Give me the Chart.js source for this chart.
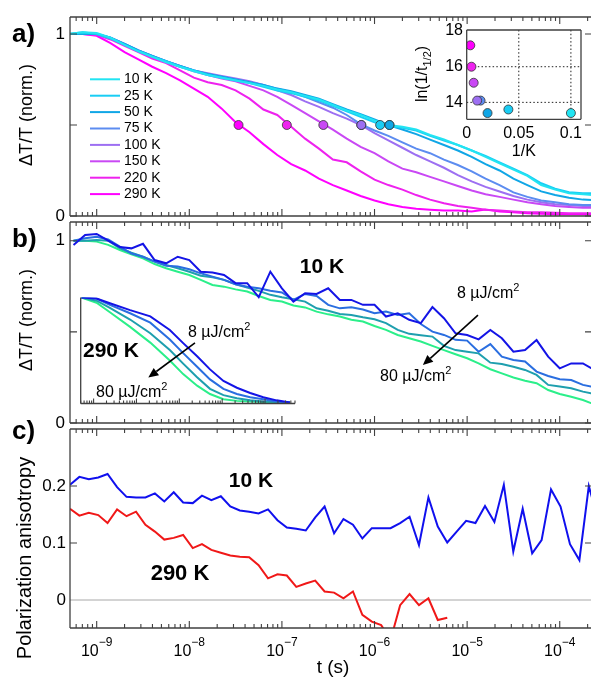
<!DOCTYPE html>
<html><head><meta charset="utf-8">
<script src="https://cdn.jsdelivr.net/npm/chart.js@4.4.1/dist/chart.umd.min.js"></script>
<style>
html,body{margin:0;padding:0;background:#fff;width:591px;height:678px;overflow:hidden;}
canvas{position:absolute;left:0;top:0;}
</style></head><body>
<canvas id="cA" width="600" height="678"></canvas>
<canvas id="cAi" width="600" height="678"></canvas>
<canvas id="cB" width="600" height="678"></canvas>
<canvas id="cBi" width="600" height="678"></canvas>
<canvas id="cC" width="600" height="678"></canvas>
<script>
// ================= DATA =================
// Panel a: normalized dT/T vs time for several temperatures
const tempLabels = ['10 K','25 K','50 K','75 K','100 K','150 K','220 K','290 K'];
const tempColors = ['#22e4f2','#19cdf4','#10a6e6','#5c8cf0','#9d6ff2','#c948f4','#ee22ee','#ff00ff'];
const timesA = [5.01e-10,7.08e-10,1.00e-9,1.41e-9,2.00e-9,2.82e-9,3.98e-9,5.62e-9,7.94e-9,1.12e-8,1.58e-8,2.24e-8,3.16e-8,4.47e-8,6.31e-8,8.91e-8,1.26e-7,1.78e-7,2.51e-7,3.55e-7,5.01e-7,7.08e-7,1.00e-6,1.41e-6,2.00e-6,2.82e-6,3.98e-6,5.62e-6,7.94e-6,1.12e-5,1.58e-5,2.24e-5,3.16e-5,4.47e-5,6.31e-5,8.91e-5,1.26e-4,1.78e-4,2.24e-4];
const dT10K  = [1.0,1.01,1.005,0.98,0.94,0.905,0.875,0.845,0.82,0.795,0.775,0.76,0.745,0.73,0.715,0.695,0.68,0.66,0.64,0.61,0.58,0.555,0.525,0.50,0.49,0.475,0.445,0.42,0.39,0.36,0.325,0.29,0.255,0.22,0.17,0.145,0.125,0.12,0.115];
const dT25K  = [1.0,1.01,1.0,0.975,0.94,0.905,0.875,0.85,0.82,0.8,0.775,0.76,0.745,0.73,0.71,0.69,0.675,0.655,0.635,0.605,0.575,0.545,0.515,0.495,0.485,0.47,0.44,0.415,0.39,0.36,0.33,0.295,0.26,0.225,0.18,0.15,0.13,0.125,0.125];
const dT50K  = [1.0,1.0,1.0,0.98,0.945,0.91,0.88,0.85,0.825,0.8,0.78,0.765,0.75,0.735,0.72,0.7,0.685,0.665,0.645,0.615,0.585,0.56,0.53,0.5,0.475,0.45,0.42,0.39,0.36,0.325,0.285,0.25,0.205,0.17,0.135,0.115,0.1,0.09,0.088];
const dT75K  = [1.0,1.0,1.0,0.98,0.945,0.91,0.88,0.85,0.825,0.8,0.78,0.765,0.75,0.735,0.72,0.70,0.68,0.655,0.625,0.595,0.555,0.505,0.47,0.44,0.405,0.37,0.345,0.31,0.28,0.245,0.205,0.17,0.13,0.105,0.085,0.075,0.065,0.06,0.06];
const dT100K = [1.0,1.0,1.0,0.98,0.945,0.91,0.88,0.85,0.825,0.8,0.785,0.77,0.755,0.74,0.72,0.69,0.665,0.63,0.6,0.565,0.535,0.5,0.455,0.415,0.375,0.335,0.3,0.265,0.225,0.19,0.16,0.135,0.11,0.09,0.075,0.065,0.06,0.055,0.055];
const dT150K = [1.0,1.0,1.0,0.975,0.94,0.905,0.875,0.845,0.82,0.795,0.775,0.755,0.74,0.715,0.69,0.655,0.61,0.565,0.52,0.475,0.425,0.38,0.345,0.30,0.26,0.24,0.215,0.19,0.165,0.14,0.12,0.105,0.09,0.075,0.065,0.055,0.05,0.045,0.045];
const dT220K = [1.0,1.0,0.995,0.97,0.935,0.9,0.865,0.84,0.8,0.76,0.735,0.72,0.69,0.645,0.585,0.555,0.49,0.425,0.37,0.31,0.295,0.245,0.2,0.17,0.145,0.115,0.09,0.07,0.055,0.045,0.035,0.03,0.025,0.02,0.02,0.018,0.015,0.015,0.015];
const dT290K = [1.0,1.0,0.99,0.95,0.9,0.86,0.82,0.785,0.745,0.70,0.655,0.59,0.515,0.46,0.395,0.335,0.285,0.25,0.205,0.17,0.14,0.11,0.085,0.065,0.05,0.04,0.035,0.03,0.03,0.025,0.035,0.025,0.02,0.015,0.012,0.01,0.01,0.01,0.01];
// half-decay points (t1/2, level 0.5), order 10 K ... 290 K
const halfTimes  = [1.45e-6,1.15e-6,1.45e-6,7.2e-7,7.2e-7,2.8e-7,1.13e-7,3.4e-8];
const halfLevels = [0.5,0.5,0.5,0.5,0.5,0.5,0.5,0.5];
// inset a: ln(1/t1/2) vs 1/T
const invTemp   = [0.1,0.04,0.02,0.0133,0.01,0.0067,0.00455,0.00345];
const lnInvHalf = [13.4,13.6,13.4,14.1,14.1,15.1,16.0,17.2];

// Panel b: 10 K, four excitation fluences (8 -> 80 uJ/cm2)
const fluenceLabels = ['8 µJ/cm²','fluence 2','fluence 3','80 µJ/cm²'];
const fluenceColors = ['#1414e6','#2a6ee0','#1e9fae','#2bef8a'];
const timesB = [5.62e-10,7.50e-10,1.00e-9,1.33e-9,1.78e-9,2.37e-9,3.16e-9,4.22e-9,5.62e-9,7.50e-9,1.00e-8,1.33e-8,1.78e-8,2.37e-8,3.16e-8,4.22e-8,5.62e-8,7.50e-8,1.00e-7,1.33e-7,1.78e-7,2.37e-7,3.16e-7,4.22e-7,5.62e-7,7.50e-7,1.00e-6,1.33e-6,1.78e-6,2.37e-6,3.16e-6,4.22e-6,5.62e-6,7.50e-6,1.00e-5,1.33e-5,1.78e-5,2.37e-5,3.16e-5,4.22e-5,5.62e-5,7.50e-5,1.00e-4,1.33e-4,1.78e-4,2.37e-4];
const b10K_f1 = [0.977,1.031,1.037,1.0,0.965,0.958,0.983,0.894,0.876,0.912,0.894,0.83,0.825,0.812,0.767,0.767,0.69,0.83,0.739,0.666,0.712,0.708,0.739,0.675,0.675,0.648,0.648,0.584,0.602,0.566,0.548,0.636,0.575,0.492,0.483,0.459,0.51,0.465,0.391,0.4,0.455,0.364,0.3,0.327,0.327,0.291];
const b10K_f2 = [1.0,1.013,1.022,1.007,0.967,0.93,0.912,0.885,0.863,0.858,0.843,0.821,0.803,0.785,0.761,0.748,0.739,0.726,0.716,0.675,0.708,0.697,0.648,0.629,0.635,0.623,0.602,0.611,0.593,0.602,0.543,0.501,0.483,0.456,0.452,0.391,0.433,0.364,0.346,0.337,0.282,0.258,0.240,0.236,0.209,0.196];
const b10K_f3 = [1.0,1.0,1.004,1.0,0.958,0.934,0.912,0.885,0.867,0.849,0.83,0.808,0.799,0.785,0.761,0.743,0.725,0.703,0.69,0.679,0.666,0.629,0.616,0.598,0.593,0.58,0.569,0.548,0.511,0.489,0.481,0.474,0.423,0.4,0.391,0.382,0.331,0.324,0.309,0.291,0.264,0.209,0.2,0.191,0.172,0.159];
const b10K_f4 = [1.0,1.0,0.995,0.977,0.949,0.925,0.903,0.872,0.849,0.83,0.812,0.785,0.757,0.748,0.733,0.721,0.697,0.675,0.666,0.645,0.634,0.611,0.596,0.584,0.566,0.557,0.532,0.511,0.483,0.465,0.447,0.423,0.4,0.377,0.355,0.327,0.295,0.272,0.25,0.232,0.218,0.181,0.159,0.144,0.126,0.102];
// inset b: 290 K, same four fluences
const timesBi = [5.2e-10,1.17e-9,2.4e-9,7.1e-9,2.1e-8,6.0e-8,1.23e-7,2.6e-7,5.2e-7,1.07e-6,2.2e-6,4.5e-6,9.1e-6,1.86e-5,3.8e-5];
const b290K_f1 = [1.0,0.99,0.945,0.88,0.82,0.69,0.565,0.44,0.315,0.205,0.14,0.09,0.05,0.02,0.0];
const b290K_f2 = [1.0,0.99,0.93,0.85,0.76,0.6,0.47,0.34,0.22,0.13,0.08,0.05,0.03,0.01,0.0];
const b290K_f3 = [1.0,0.97,0.9,0.79,0.66,0.5,0.37,0.24,0.13,0.07,0.04,0.02,0.01,0.005,0.0];
const b290K_f4 = [1.0,0.95,0.86,0.72,0.57,0.4,0.27,0.16,0.08,0.03,0.015,0.01,0.005,0.0,0.0];

// Panel c: polarization anisotropy
const timesC = [5.15e-10,6.50e-10,8.22e-10,1.04e-9,1.31e-9,1.66e-9,2.10e-9,2.66e-9,3.36e-9,4.25e-9,5.37e-9,6.79e-9,8.58e-9,1.09e-8,1.37e-8,1.73e-8,2.19e-8,2.77e-8,3.51e-8,4.43e-8,5.60e-8,7.08e-8,8.95e-8,1.13e-7,1.43e-7,1.81e-7,2.29e-7,2.89e-7,3.66e-7,4.62e-7,5.85e-7,7.39e-7,9.35e-7,1.18e-6,1.49e-6,1.89e-6,2.39e-6,3.02e-6,3.82e-6,4.82e-6,6.10e-6,7.71e-6,9.75e-6,1.23e-5,1.56e-5,1.97e-5,2.49e-5,3.15e-5,3.98e-5,5.04e-5,6.37e-5,8.05e-5,1.02e-4,1.29e-4,1.63e-4,2.06e-4,2.60e-4];
const aniso10K = [0.202,0.216,0.212,0.215,0.221,0.198,0.181,0.180,0.180,0.187,0.173,0.189,0.171,0.170,0.183,0.175,0.182,0.164,0.157,0.155,0.152,0.159,0.140,0.127,0.125,0.122,0.145,0.164,0.117,0.142,0.132,0.108,0.126,0.126,0.126,0.135,0.146,0.0965,0.180,0.129,0.101,0.120,0.139,0.135,0.165,0.137,0.202,0.085,0.160,0.082,0.105,0.194,0.164,0.098,0.070,0.200,0.140];
const aniso290K = [0.160,0.148,0.153,0.149,0.135,0.159,0.147,0.155,0.132,0.120,0.106,0.109,0.114,0.091,0.098,0.088,0.083,0.078,0.076,0.075,0.061,0.038,0.045,0.043,0.023,0.029,0.034,0.015,0.013,0.003,0.015,-0.026,-0.038,-0.044,-0.07,-0.009,0.0105,-0.009,0.003,-0.035,-0.031,null,null,null,null,null,null,null,null,null,null,null,null,null,null,null,null];

// axis tick labels
const xMajorExps = [-9,-8,-7,-6,-5,-4];
const yTicksAB = [0,0.5,1];
const yLabelsAB = ['0','','1'];
const yTicksC = [0,0.1,0.2];
const yLabelsC = ['0','0.1','0.2'];
const insetYTicks = [14,16,18];
const insetXTicks = [0,0.05,0.1];
const insetXLabels = ['0','0.05','0.1'];

// ================= RENDERING =================
const W = 600, H = 678;
const FONT = '"Liberation Sans", Arial, Helvetica, sans-serif';
const INK = '#000';
const FRAME = '#404040';
const pts = (ts, vs) => ts.map((t, i) => ({x: t, y: vs[i]}));
const font = (s, b) => (b ? 'bold ' : '') + s + 'px ' + FONT;

function text(ctx, s, x, y, size, o) {
  o = o || {};
  ctx.save();
  ctx.font = font(size, o.bold);
  ctx.fillStyle = o.color || INK;
  ctx.textAlign = o.align || 'left';
  ctx.textBaseline = o.baseline || 'alphabetic';
  if (o.rot) { ctx.translate(x, y); ctx.rotate(o.rot); ctx.fillText(s, 0, o.dy || 0); }
  else ctx.fillText(s, x, y);
  ctx.restore();
}
function supText(ctx, base, sup, x, y, size, supSize, rise, align) {
  ctx.save(); ctx.fillStyle = INK; ctx.textBaseline = 'alphabetic'; ctx.textAlign = 'left';
  ctx.font = font(size); const w1 = ctx.measureText(base).width;
  ctx.font = font(supSize); const w2 = ctx.measureText(sup).width;
  const x0 = align === 'center' ? x - (w1 + w2) / 2 : (align === 'right' ? x - w1 - w2 : x);
  ctx.font = font(size); ctx.fillText(base, x0, y);
  ctx.font = font(supSize); ctx.fillText(sup, x0 + w1, y - rise);
  ctx.restore();
}
function arrow(ctx, x1, y1, x2, y2) {
  ctx.save(); ctx.strokeStyle = '#000'; ctx.fillStyle = '#000'; ctx.lineWidth = 1.6;
  const a = Math.atan2(y2 - y1, x2 - x1), L = 10, Wd = 4.5;
  const bx = x2 - L * Math.cos(a), by = y2 - L * Math.sin(a);
  ctx.beginPath(); ctx.moveTo(x1, y1); ctx.lineTo(bx, by); ctx.stroke();
  ctx.beginPath(); ctx.moveTo(x2, y2);
  ctx.lineTo(bx + Wd * Math.sin(a), by - Wd * Math.cos(a));
  ctx.lineTo(bx - Wd * Math.sin(a), by + Wd * Math.cos(a));
  ctx.closePath(); ctx.fill(); ctx.restore();
}
function frame(ctx, ca, sides) {
  ctx.save(); ctx.strokeStyle = FRAME; ctx.lineWidth = 1.3; ctx.beginPath();
  if (sides.includes('t')) { ctx.moveTo(ca.left, ca.top); ctx.lineTo(ca.right, ca.top); }
  if (sides.includes('b')) { ctx.moveTo(ca.left, ca.bottom); ctx.lineTo(ca.right, ca.bottom); }
  if (sides.includes('l')) { ctx.moveTo(ca.left, ca.top); ctx.lineTo(ca.left, ca.bottom); }
  if (sides.includes('r')) { ctx.moveTo(ca.right, ca.top); ctx.lineTo(ca.right, ca.bottom); }
  ctx.stroke(); ctx.restore();
}
function logTicks(chart, edges, major, minor) {
  const ctx = chart.ctx, sx = chart.scales.x, ca = chart.chartArea;
  const lo = Math.floor(Math.log10(sx.min)), hi = Math.ceil(Math.log10(sx.max));
  ctx.save(); ctx.strokeStyle = FRAME; ctx.lineWidth = 1.1; ctx.beginPath();
  for (let e = lo; e <= hi; e++) for (let m = 1; m <= 9; m++) {
    const v = m * Math.pow(10, e);
    if (v < sx.min || v > sx.max) continue;
    const px = sx.getPixelForValue(v), len = m === 1 ? major : minor;
    if (edges.includes('b')) { ctx.moveTo(px, ca.bottom); ctx.lineTo(px, ca.bottom - len); }
    if (edges.includes('t')) { ctx.moveTo(px, ca.top); ctx.lineTo(px, ca.top + len); }
  }
  ctx.stroke(); ctx.restore();
}
function yTicks(chart, vals, len) {
  const ctx = chart.ctx, sy = chart.scales.y, ca = chart.chartArea;
  ctx.save(); ctx.strokeStyle = FRAME; ctx.lineWidth = 1.1; ctx.beginPath();
  vals.forEach(v => {
    const py = sy.getPixelForValue(v);
    ctx.moveTo(ca.left, py); ctx.lineTo(ca.left + len, py);
    ctx.moveTo(ca.right, py); ctx.lineTo(ca.right - len, py);
  });
  ctx.stroke(); ctx.restore();
}
function yLabels(chart, vals, labels, x, size) {
  const sy = chart.scales.y;
  vals.forEach((v, i) => { if (labels[i]) text(chart.ctx, labels[i], x, sy.getPixelForValue(v), size, {align: 'right', baseline: 'middle'}); });
}

function makeChart(id, cfg) {
  const el = document.getElementById(id);
  const noop = () => {};
  return new Chart(el.getContext('2d'), {
    type: 'line',
    data: {datasets: cfg.datasets},
    options: {
      responsive: false, maintainAspectRatio: false, animation: false, devicePixelRatio: 1,
      layout: {padding: {left: cfg.area[0], top: cfg.area[1], right: W - cfg.area[2], bottom: H - cfg.area[3]}},
      plugins: {legend: {display: false}, tooltip: {enabled: false}},
      scales: {
        x: {type: cfg.xType || 'logarithmic', min: cfg.x[0], max: cfg.x[1], display: false},
        y: {type: 'linear', min: cfg.y[0], max: cfg.y[1], display: false}
      },
      elements: {point: {radius: 0}, line: {borderWidth: 2, tension: 0}}
    },
    plugins: [{id: 'deco_' + id, beforeDatasetsDraw: cfg.before || noop, afterDatasetsDraw: cfg.after || noop}]
  });
}
const lineDS = (label, data, color) => ({label, data, borderColor: color, backgroundColor: color, borderWidth: 2, pointRadius: 0, fill: false});

// ---------- Panel a ----------
const seriesA = [dT10K, dT25K, dT50K, dT75K, dT100K, dT150K, dT220K, dT290K];
const dsA = seriesA.map((s, i) => Object.assign(lineDS(tempLabels[i], pts(timesA, s), tempColors[i]), {legend: true}));
dsA.unshift({label: 't1/2', data: pts(halfTimes, halfLevels), showLine: false, order: -1,
  pointRadius: 4.5, pointBackgroundColor: tempColors, pointBorderColor: '#333', pointBorderWidth: 0.8, borderColor: '#333'});
makeChart('cA', {
  area: [70, 17, 592, 216], x: [5.15e-10, 2.23e-4], y: [0, 1.0934], datasets: dsA,
  after(chart) {
    const ctx = chart.ctx;
    frame(ctx, chart.chartArea, 'tblr');
    logTicks(chart, 'tb', 7, 4);
    yTicks(chart, yTicksAB, 7);
    yLabels(chart, yTicksAB, yLabelsAB, 65, 17);
    text(ctx, 'ΔT/T (norm.)', 25.5, 115, 18, {rot: -Math.PI / 2, align: 'center', dy: 6.5});
    text(ctx, 'a)', 12, 42, 26, {bold: true});
    // legend
    const legendItems = chart.data.datasets.filter(d => d.legend);
    legendItems.forEach((d, i) => {
      const y = 79.3 + 16.4 * i;
      ctx.save(); ctx.strokeStyle = d.borderColor; ctx.lineWidth = 2;
      ctx.beginPath(); ctx.moveTo(90, y); ctx.lineTo(120, y); ctx.stroke(); ctx.restore();
      text(ctx, d.label, 124, y, 14, {baseline: 'middle'});
    });
  }
});

// ---------- Inset a ----------
makeChart('cAi', {
  area: [466.7, 30, 581, 119.3], xType: 'linear', x: [0, 0.1097], y: [13.05, 18.06],
  datasets: [{label: 'ln(1/t1/2)', data: pts(invTemp, lnInvHalf), showLine: false,
    pointRadius: 4.5, pointBackgroundColor: tempColors, pointBorderColor: '#333', pointBorderWidth: 0.8, borderColor: '#333'}],
  before(chart) {
    const ctx = chart.ctx, ca = chart.chartArea, sx = chart.scales.x, sy = chart.scales.y;
    ctx.save(); ctx.fillStyle = '#fff'; ctx.fillRect(ca.left, ca.top, ca.right - ca.left, ca.bottom - ca.top);
    ctx.strokeStyle = '#222'; ctx.lineWidth = 1; ctx.setLineDash([1.5, 2.2]); ctx.beginPath();
    [0.05, 0.1].forEach(v => { const px = sx.getPixelForValue(v); ctx.moveTo(px, ca.top); ctx.lineTo(px, ca.bottom); });
    [14, 16].forEach(v => { const py = sy.getPixelForValue(v); ctx.moveTo(ca.left, py); ctx.lineTo(ca.right, py); });
    ctx.stroke(); ctx.restore();
  },
  after(chart) {
    const ctx = chart.ctx, ca = chart.chartArea, sx = chart.scales.x, sy = chart.scales.y;
    frame(ctx, ca, 'tblr');
    insetYTicks.forEach(v => text(ctx, String(v), 463, sy.getPixelForValue(v), 16, {align: 'right', baseline: 'middle'}));
    insetXTicks.forEach((v, i) => text(ctx, insetXLabels[i], sx.getPixelForValue(v), 134, 16, {align: 'center', baseline: 'middle'}));
    text(ctx, '1/K', (ca.left + ca.right) / 2, 152, 16, {align: 'center', baseline: 'middle'});
    // rotated y title with subscript
    ctx.save(); ctx.translate(421, 74); ctx.rotate(-Math.PI / 2); ctx.fillStyle = INK;
    ctx.font = font(16); const wa = ctx.measureText('ln(1/t').width, wc = ctx.measureText(')').width;
    ctx.font = font(11); const wb = ctx.measureText('1/2').width;
    const x0 = -(wa + wb + wc) / 2;
    ctx.font = font(16); ctx.fillText('ln(1/t', x0, 6); ctx.fillText(')', x0 + wa + wb, 6);
    ctx.font = font(11); ctx.fillText('1/2', x0 + wa, 10);
    ctx.restore();
  }
});

// ---------- Panel b ----------
const seriesB = [b10K_f1, b10K_f2, b10K_f3, b10K_f4];
makeChart('cB', {
  area: [70, 222, 592, 423], x: [5.15e-10, 2.23e-4], y: [0, 1.1026],
  datasets: seriesB.map((s, i) => lineDS(fluenceLabels[i], pts(timesB, s), fluenceColors[i])),
  after(chart) {
    const ctx = chart.ctx, sx = chart.scales.x, sy = chart.scales.y;
    frame(ctx, chart.chartArea, 'tblr');
    logTicks(chart, 'tb', 7, 4);
    yTicks(chart, yTicksAB, 7);
    yLabels(chart, yTicksAB, yLabelsAB, 65, 17);
    text(ctx, 'ΔT/T (norm.)', 25.5, 320, 18, {rot: -Math.PI / 2, align: 'center', dy: 6.5});
    text(ctx, 'b)', 12, 247, 26, {bold: true});
    text(ctx, '10 K', 322, 273, 21, {bold: true, align: 'center'});
    supText(ctx, '8 µJ/cm', '2', 457, 298, 16, 11, 7, 'left');
    supText(ctx, '80 µJ/cm', '2', 380, 381, 16, 11, 7, 'left');
    arrow(ctx, sx.getPixelForValue(1.31e-5), sy.getPixelForValue(0.592), sx.getPixelForValue(3.33e-6), sy.getPixelForValue(0.318));
  }
});

// ---------- Inset b ----------
const seriesBi = [b290K_f1, b290K_f2, b290K_f3, b290K_f4];
makeChart('cBi', {
  area: [80.7, 297.5, 295, 403.5], x: [5e-10, 5e-5], y: [-0.01, 1.0],
  datasets: seriesBi.map((s, i) => lineDS(fluenceLabels[i], pts(timesBi, s), fluenceColors[i])),
  after(chart) {
    const ctx = chart.ctx, sx = chart.scales.x, sy = chart.scales.y;
    frame(ctx, chart.chartArea, 'lb');
    logTicks(chart, 'b', 5, 3);
    text(ctx, '290 K', 83, 357, 21, {bold: true});
    supText(ctx, '8 µJ/cm', '2', 188, 337, 16, 11, 7, 'left');
    supText(ctx, '80 µJ/cm', '2', 96, 397, 16, 11, 7, 'left');
    arrow(ctx, sx.getPixelForValue(2.32e-7), sy.getPixelForValue(0.568), sx.getPixelForValue(1.89e-8), sy.getPixelForValue(0.238));
  }
});

// ---------- Panel c ----------
makeChart('cC', {
  area: [70, 429, 592, 628], x: [5.15e-10, 2.23e-4], y: [-0.0491, 0.3],
  datasets: [lineDS('10 K', pts(timesC, aniso10K), '#1010ee'), lineDS('290 K', pts(timesC, aniso290K), '#f01818')],
  before(chart) {
    const ctx = chart.ctx, ca = chart.chartArea, py = chart.scales.y.getPixelForValue(0);
    ctx.save(); ctx.strokeStyle = '#a8a8a8'; ctx.lineWidth = 1; ctx.beginPath();
    ctx.moveTo(ca.left, py); ctx.lineTo(ca.right, py); ctx.stroke(); ctx.restore();
  },
  after(chart) {
    const ctx = chart.ctx, sx = chart.scales.x;
    frame(ctx, chart.chartArea, 'tblr');
    logTicks(chart, 'tb', 7, 4);
    yTicks(chart, [0.1, 0.2], 7);
    yLabels(chart, yTicksC, yLabelsC, 66, 17);
    xMajorExps.forEach(e => supText(ctx, '10', '−' + Math.abs(e), sx.getPixelForValue(Math.pow(10, e)), 656, 16, 12, 10, 'center'));
    text(ctx, 't (s)', 333, 673, 19, {align: 'center'});
    text(ctx, 'Polarization anisotropy', 24, 558, 20, {rot: -Math.PI / 2, align: 'center', dy: 7});
    text(ctx, 'c)', 12, 439, 26, {bold: true});
    text(ctx, '10 K', 251, 487, 21, {bold: true, align: 'center'});
    text(ctx, '290 K', 180, 580, 22, {bold: true, align: 'center'});
  }
});
</script>
</body></html>
